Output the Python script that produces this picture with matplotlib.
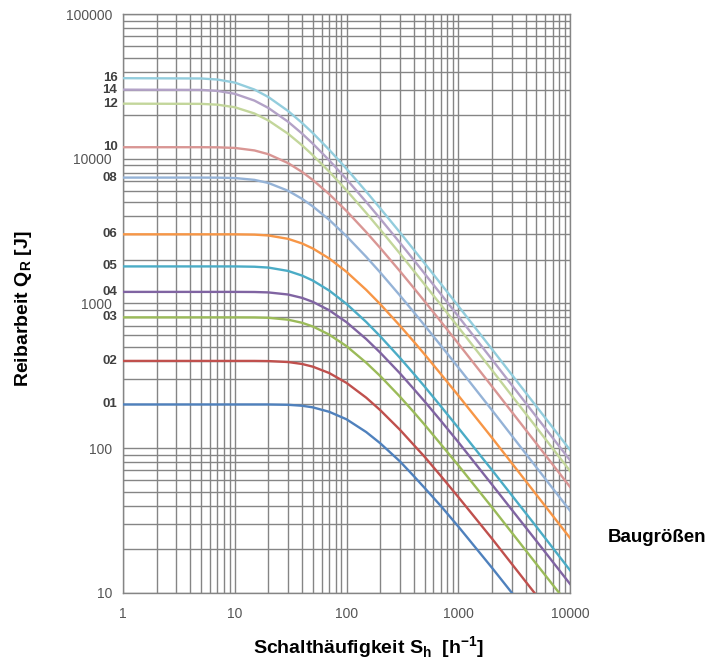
import matplotlib
matplotlib.use("Agg")
import matplotlib.pyplot as plt
from matplotlib.ticker import LogLocator, NullFormatter, FixedLocator, FixedFormatter

plt.rcParams['font.family'] = ['Liberation Sans', 'DejaVu Sans']
plt.rcParams['mathtext.fontset'] = 'custom'
plt.rcParams['mathtext.rm'] = 'Liberation Sans'
plt.rcParams['mathtext.bf'] = 'Liberation Sans:bold'

# switching frequency S_h [1/h]
x_vals = [1, 5, 7, 10, 15, 20, 30, 40, 50, 70, 100, 150, 200, 300, 400, 500, 700,
          1000, 2000, 5000, 10000]

# friction work Q_R [J] per size
q_01 = [200, 200, 200, 200, 200, 200, 199, 196, 191, 178, 158, 129, 108, 81, 64, 53, 39.7,
        28.7, 14.9, 6.1, 3.1]
q_02 = [400, 400, 400, 400, 400, 399, 393, 381, 365, 330, 282, 223, 183, 134, 105, 87, 64,
        45.9, 23.7, 9.6, 4.8]
q_03 = [800, 800, 800, 800, 799, 795, 771, 734, 692, 608, 506, 389, 315, 227, 177, 145, 106,
        76, 39, 15.8, 8.0]
q_04 = [1200, 1200, 1200, 1200, 1198, 1190, 1151, 1091, 1024, 896, 741, 567, 457, 329, 256,
        210, 154, 110, 56, 22.8, 11.5]
q_05 = [1800, 1800, 1800, 1800, 1791, 1767, 1675, 1556, 1437, 1226, 991, 744, 593, 421, 326,
        266, 194, 138, 70.6, 28.6, 14.3]
q_06 = [3000, 3000, 3000, 3000, 2986, 2945, 2792, 2594, 2394, 2043, 1652, 1240, 989, 702,
        544, 444, 324, 231, 118, 47.6, 23.9]
q_08 = [7400, 7400, 7394, 7350, 7136, 6792, 6002, 5280, 4678, 3778, 2912, 2098, 1637, 1136,
        869, 704, 510, 361, 183, 73.6, 36.9]
q_10 = [12000, 12000, 11981, 11867, 11402, 10735, 9323, 8104, 7121, 5690, 4349, 3110, 2418,
        1672, 1277, 1033, 747, 528, 267, 107.5, 53.9]
q_12 = [24000, 23928, 23618, 22680, 20530, 18370, 14873, 12377, 10562, 8141, 6043, 4219,
        3240, 2212, 1678, 1352, 974, 686, 346, 139, 69.5]
q_14 = [30000, 29877, 29409, 28083, 25203, 22416, 18006, 14916, 12690, 9747, 7212, 5025,
        3855, 2628, 1993, 1605, 1156, 814, 410, 164.5, 82.4]
q_16 = [36000, 35838, 35240, 33581, 30049, 26669, 21362, 17669, 15023, 11524, 8518, 5929,
        4547, 3099, 2350, 1893, 1362, 959, 483, 194, 97.1]

sizes = ["01", "02", "03", "04", "05", "06", "08", "10", "12", "14", "16"]
series = [q_01, q_02, q_03, q_04, q_05, q_06, q_08, q_10, q_12, q_14, q_16]
colors = ["#4F81BD", "#C0504D", "#9BBB59", "#8064A2", "#4BACC6", "#F79646",
          "#95B3D7", "#D99694", "#C3D69B", "#B3A2C7", "#93CDDD"]

x_ticks = [1, 10, 100, 1000, 10000]
x_ticklabels = ["1", "10", "100", "1000", "10000"]
y_ticks = [10, 100, 1000, 10000, 100000]
y_ticklabels = ["10", "100", "1000", "10000", "100000"]

W, H = 709, 664
fig = plt.figure(figsize=(W / 100, H / 100), dpi=100)
L, R, B, T = 123, 570, 592.7, 14
ax = fig.add_axes([L / W, 1 - B / H, (R - L) / W, (B - T) / H])
ax.set_xscale('log')
ax.set_yscale('log')
ax.set_xlim(1, 10000)
ax.set_ylim(10, 100000)

ax.xaxis.set_major_locator(FixedLocator(x_ticks))
ax.xaxis.set_major_formatter(FixedFormatter(x_ticklabels))
ax.yaxis.set_major_locator(FixedLocator(y_ticks))
ax.yaxis.set_major_formatter(FixedFormatter(y_ticklabels))
ax.xaxis.set_minor_locator(LogLocator(base=10, subs=range(2, 10), numticks=20))
ax.yaxis.set_minor_locator(LogLocator(base=10, subs=range(2, 10), numticks=20))
ax.xaxis.set_minor_formatter(NullFormatter())
ax.yaxis.set_minor_formatter(NullFormatter())

ax.grid(True, which='both', color='#858585', linewidth=1.0)
ax.set_axisbelow(True)
ax.tick_params(which='both', length=0)
ax.tick_params(axis='x', pad=10, labelsize=10, labelcolor='#555555')
ax.tick_params(axis='y', pad=8, labelsize=10, labelcolor='#555555')
for s in ax.spines.values():
    s.set_color('#858585')
    s.set_linewidth(1.0)

for name, q, c in zip(sizes, series, colors):
    ax.plot(x_vals, q, color=c, linewidth=1.7, clip_on=True, zorder=3)
    ax.annotate(name, xy=(1, q[0]), xycoords='data', xytext=(-4, 0),
                textcoords='offset points', ha='right', va='center',
                fontsize=9.5, fontweight='bold', color='#404040',
                annotation_clip=False)

fig.text(369 / W, 1 - 648 / H, r'Schalthäufigkeit S$_{\mathbf{h}}$  [h$^{\mathbf{-1}}$]',
         ha='center', va='center', fontsize=14, fontweight='bold')
fig.text(24 / W, 1 - 309 / H, r'Reibarbeit Q$_{\mathbf{R}}$ [J]',
         ha='center', va='center', fontsize=14, fontweight='bold', rotation=90)
fig.text(657 / W, 1 - 537 / H, 'Baugrößen', ha='center', va='center',
         fontsize=13.5, fontweight='bold')

fig.savefig('out.png', dpi=100)
